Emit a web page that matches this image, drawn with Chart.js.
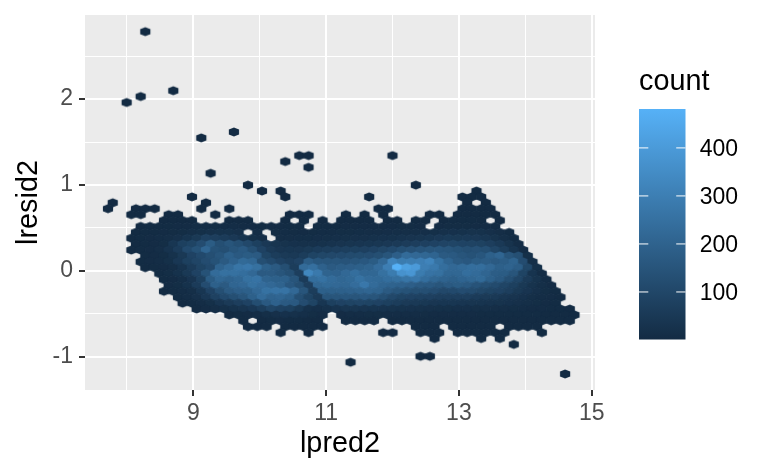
<!DOCTYPE html>
<html>
<head>
<meta charset="utf-8">
<title>lresid2 vs lpred2</title>
<script src="https://cdn.jsdelivr.net/npm/chart.js@4"></script>
<style>
  html, body { margin: 0; padding: 0; background: #fff; }
  canvas { display: block; }
</style>
</head>
<body>
<canvas id="hexChart" width="768" height="476"></canvas>
<script>
// bin rows: row y, x of the first bin, counts per bin (0 = empty bin)
const binWidth = 0.1405;
const rowY = [
  2.786, 2.098, 2.030, 1.961, 1.617, 1.548, 1.342, 1.342, 1.273, 1.205, 1.136,
  0.998, 0.998, 0.929, 0.929, 0.929, 0.861, 0.861, 0.861, 0.861,
  0.792, 0.792, 0.792, 0.792,
  0.723, 0.723, 0.723, 0.723, 0.723, 0.723,
  0.654, 0.654, 0.654, 0.654, 0.654, 0.654, 0.654, 0.654, 0.654,
  0.586, 0.586, 0.586, 0.586, 0.586, 0.586, 0.586, 0.586, 0.586, 0.586,
  0.517, 0.448, 0.379, 0.311, 0.242, 0.173, 0.104, 0.036, -0.033, -0.102,
  -0.171, -0.239, -0.308, -0.377, -0.446, -0.514, -0.583,
  -0.652, -0.652, -0.652, -0.652, -0.652,
  -0.721, -0.721, -0.721, -0.721, -0.721, -0.721,
  -0.789, -0.789, -0.789, -0.858, -0.996, -1.065, -1.202
];
const rowStartX = [
  8.277, 8.699, 8.207, 7.996, 9.612, 9.120, 10.596, 12.000, 10.385, 10.736, 9.261,
  9.823, 12.352, 10.034, 10.315, 13.265, 8.980, 10.385, 11.649, 13.054,
  7.786, 9.191, 13.125, 13.406,
  7.715, 8.137, 9.120, 9.542, 11.790, 13.054,
  8.067, 8.629, 9.331, 10.455, 11.298, 11.579, 11.860, 12.563, 12.984,
  8.558, 9.542, 10.385, 10.666, 10.947, 11.228, 11.930, 12.352, 12.773, 13.616,
  8.207, 8.137, 8.067, 8.137, 8.067, 8.277, 8.207, 8.277, 8.488, 8.558,
  8.629, 8.558, 8.769, 8.839, 9.050, 9.542, 9.753,
  9.823, 10.385, 12.352, 12.914, 13.756,
  10.315, 10.736, 11.860, 12.422, 12.984, 14.249,
  12.633, 13.335, 13.616, 13.827, 12.422, 11.368, 14.600
];
const rowCounts = [
  [1], [1], [1], [1], [1], [1], [1, 1], [1], [1], [1], [1],
  [1], [1], [1], [1], [1], [1], [1], [1], [1, 1, 1],
  [1], [1], [1], [1],
  [1], [1, 1, 1], [1], [1], [1, 2], [1, 1, 1, 1],
  [1, 1], [1, 1], [1], [1, 1, 1], [1], [1], [1], [1, 1], [1, 2, 2, 2, 1],
  [1, 2, 2, 2], [2, 2, 2], [1], [1], [1], [1, 2, 2, 1], [1, 1], [2, 2], [2, 3, 3, 3, 2], [1],
  [2, 3, 3, 4, 5, 6, 8, 9, 10, 9, 8, 6, 5, 4, 5, 5, 4, 3, 0, 3, 4, 4, 5, 5, 5, 6, 6, 6, 7, 7, 6, 0, 6, 7, 7, 7, 6, 5, 3],
  [2, 3, 4, 5, 7, 10, 14, 18, 22, 25, 26, 20, 0, 8, 0, 7, 8, 7, 6, 7, 8, 9, 10, 10, 11, 12, 12, 13, 14, 15, 15, 16, 18, 22, 24, 26, 28, 25, 20, 12, 4],
  [2, 4, 6, 8, 12, 20, 32, 50, 78, 70, 60, 48, 32, 18, 12, 0, 12, 12, 11, 11, 13, 15, 17, 18, 19, 20, 22, 24, 26, 30, 34, 36, 40, 48, 54, 50, 52, 48, 40, 28, 14, 4],
  [2, 3, 5, 10, 40, 75, 90, 120, 175, 130, 150, 130, 105, 75, 48, 36, 28, 24, 22, 22, 26, 30, 34, 36, 38, 40, 44, 48, 55, 62, 70, 78, 85, 92, 95, 88, 86, 82, 70, 52, 28, 8],
  [2, 3, 5, 12, 30, 60, 110, 140, 210, 140, 130, 150, 165, 130, 85, 55, 42, 40, 42, 50, 60, 66, 70, 74, 76, 78, 85, 98, 110, 125, 135, 145, 150, 155, 150, 140, 130, 135, 125, 95, 65, 32, 8],
  [3, 5, 10, 25, 50, 85, 110, 130, 150, 190, 165, 175, 170, 90, 65, 55, 52, 65, 90, 100, 105, 110, 115, 118, 120, 130, 150, 185, 230, 220, 215, 205, 170, 165, 150, 140, 155, 190, 210, 150, 130, 18],
  [3, 5, 9, 18, 45, 75, 95, 120, 140, 170, 195, 225, 215, 130, 110, 85, 70, 85, 180, 155, 150, 150, 145, 150, 160, 175, 220, 320, 290, 295, 300, 320, 255, 205, 170, 160, 175, 180, 170, 180, 200, 120, 14],
  [2, 3, 6, 12, 30, 60, 90, 110, 200, 230, 265, 275, 250, 190, 170, 130, 65, 230, 245, 195, 170, 180, 185, 190, 200, 235, 300, 480, 420, 400, 300, 280, 240, 220, 230, 240, 240, 220, 190, 200, 180, 100, 18],
  [4, 10, 25, 50, 85, 140, 230, 250, 250, 240, 220, 170, 170, 150, 130, 70, 330, 280, 200, 195, 220, 240, 215, 215, 250, 290, 370, 385, 290, 260, 250, 215, 215, 240, 230, 210, 180, 175, 150, 90, 32, 8],
  [3, 6, 14, 35, 75, 175, 215, 200, 215, 250, 260, 200, 190, 190, 150, 60, 240, 255, 230, 215, 225, 255, 230, 225, 240, 250, 265, 275, 240, 215, 200, 190, 205, 215, 225, 190, 165, 130, 95, 55, 28, 8],
  [5, 10, 25, 60, 120, 190, 170, 210, 220, 250, 235, 220, 200, 160, 130, 70, 215, 225, 220, 215, 235, 275, 230, 210, 200, 195, 185, 170, 165, 150, 165, 175, 165, 145, 130, 115, 95, 75, 50, 28, 14, 5],
  [2, 4, 8, 15, 40, 85, 130, 170, 185, 190, 220, 255, 260, 260, 220, 150, 65, 190, 190, 190, 195, 200, 210, 200, 170, 150, 140, 130, 130, 120, 105, 110, 120, 115, 100, 90, 85, 70, 50, 35, 20, 10, 4],
  [4, 8, 20, 45, 80, 110, 130, 150, 190, 230, 200, 210, 190, 130, 90, 55, 150, 150, 155, 150, 160, 150, 130, 105, 90, 85, 80, 78, 70, 70, 70, 70, 60, 55, 52, 42, 34, 24, 14, 8, 5, 2],
  [2, 4, 8, 18, 38, 55, 70, 85, 125, 165, 195, 170, 165, 120, 90, 40, 75, 85, 90, 95, 90, 85, 75, 65, 55, 52, 46, 42, 40, 40, 38, 36, 32, 30, 28, 24, 20, 14, 10, 6, 3],
  [2, 6, 12, 18, 25, 34, 45, 65, 95, 80, 75, 50, 22, 16, 22, 30, 36, 36, 34, 32, 30, 28, 26, 24, 22, 20, 18, 18, 16, 16, 14, 14, 12, 12, 10, 8, 6, 5, 4, 3, 2],
  [2, 4, 6, 8, 14, 20, 24, 22, 16, 10, 5, 0, 6, 8, 9, 10, 10, 9, 9, 8, 8, 7, 6, 6, 6, 5, 5, 4, 4, 4, 4, 3, 3, 3, 2, 2, 2, 1],
  [1, 0, 2, 4, 5, 4, 3, 2, 1, 0, 0, 1, 2, 2, 1, 0, 2, 2, 2, 2, 2, 2, 2, 2, 2, 2, 1, 1, 1, 1, 1, 1, 1, 1, 1, 1],
  [1, 1, 1], [1, 2, 2, 1, 1], [1, 1, 1], [1, 1, 1, 1, 1], [1, 1, 1, 1],
  [1], [1], [1, 1], [1, 1, 1], [1, 1, 1, 1, 1, 1], [1],
  [1], [1], [1], [1], [1, 1], [1], [1]
];

const xTicks = [8, 9, 10, 11, 12, 13, 14, 15];
const xLabels = [9, 11, 13, 15];
const yTicks = [-1, -0.5, 0, 0.5, 1, 1.5, 2, 2.5];
const yLabels = [-1, 0, 1, 2];
const legendTicks = [100, 200, 300, 400];
const countMin = 1;
const countMax = 481;
const lowColor = [19, 43, 67];
const highColor = [86, 177, 247];

const fontFamily = '"Liberation Sans", Helvetica, Arial, sans-serif';

function countColor(count) {
  const t = (count - countMin) / (countMax - countMin);
  const c = lowColor.map((v, i) => Math.round(v + (highColor[i] - v) * t));
  return `rgb(${c[0]},${c[1]},${c[2]})`;
}

// one small pointy-top hexagon per colour, used as the point image
// slightly oversized so neighbouring bins leave no seams
const sprites = {};
function hexSprite(count) {
  if (sprites[count]) return sprites[count];
  const c = document.createElement('canvas');
  c.width = 14;
  c.height = 14;
  const g = c.getContext('2d');
  const hw = 5.1, hh = 4.5, side = 2.4;
  g.fillStyle = countColor(count);
  g.beginPath();
  g.moveTo(7, 7 - hh);
  g.lineTo(7 + hw, 7 - side);
  g.lineTo(7 + hw, 7 + side);
  g.lineTo(7, 7 + hh);
  g.lineTo(7 - hw, 7 + side);
  g.lineTo(7 - hw, 7 - side);
  g.closePath();
  g.fill();
  sprites[count] = c;
  return c;
}

const points = [];
rowCounts.forEach((counts, r) => {
  counts.forEach((count, i) => {
    if (count > 0) points.push({ x: rowStartX[r] + i * binWidth, y: rowY[r], count });
  });
});

function noAxisPadding(axis) {
  axis.paddingTop = 0;
  axis.paddingBottom = 0;
  axis.paddingLeft = 0;
  axis.paddingRight = 0;
}

const panelAndLegend = {
  id: 'panelAndLegend',
  beforeDraw(chart) {
    const { ctx, chartArea: a } = chart;
    ctx.save();
    ctx.fillStyle = '#EBEBEB';
    ctx.fillRect(a.left, a.top, a.right - a.left, a.bottom - a.top);
    ctx.restore();
  },
  afterDraw(chart) {
    const ctx = chart.ctx;
    const left = 639, right = 685.5, top = 109, bottom = 339.5;
    const perCount = (bottom - top) / (countMax - countMin);
    ctx.save();
    const grad = ctx.createLinearGradient(0, bottom, 0, top);
    grad.addColorStop(0, countColor(countMin));
    grad.addColorStop(1, countColor(countMax));
    ctx.fillStyle = grad;
    ctx.fillRect(left, top, right - left, bottom - top);
    ctx.font = `23px ${fontFamily}`;
    ctx.textBaseline = 'middle';
    legendTicks.forEach(v => {
      const y = bottom - (v - countMin) * perCount;
      ctx.fillStyle = '#fff';
      ctx.fillRect(left, y - 0.5, 9.3, 1);
      ctx.fillRect(right - 9.3, y - 0.5, 9.3, 1);
      ctx.fillStyle = '#000';
      ctx.textAlign = 'right';
      ctx.fillText(String(v), 738, y + 2);
    });
    ctx.font = `28.8px ${fontFamily}`;
    ctx.textAlign = 'left';
    ctx.textBaseline = 'alphabetic';
    ctx.fillText('count', 639, 90);
    ctx.restore();
  }
};

new Chart(document.getElementById('hexChart'), {
  type: 'scatter',
  data: {
    datasets: [{
      data: points,
      pointStyle: ctx => hexSprite(ctx.raw.count),
      pointRadius: 4,
      pointHoverRadius: 4
    }]
  },
  options: {
    responsive: false,
    animation: false,
    devicePixelRatio: 1,
    layout: { padding: { top: 15, right: 173, left: 0, bottom: 0 } },
    plugins: { legend: { display: false }, tooltip: { enabled: false } },
    scales: {
      x: {
        type: 'linear',
        min: 7.369,
        max: 15.05,
        afterBuildTicks: axis => { axis.ticks = xTicks.map(value => ({ value })); },
        afterFit: axis => { axis.height = 86; noAxisPadding(axis); },
        border: { display: false },
        grid: {
          color: '#fff',
          lineWidth: c => (xLabels.includes(c.tick.value) ? 2 : 1),
          tickColor: c => (xLabels.includes(c.tick.value) ? '#333' : 'rgba(0,0,0,0)'),
          tickWidth: 2,
          tickLength: 6
        },
        ticks: {
          autoSkip: false,
          maxRotation: 0,
          padding: 4,
          color: '#4D4D4D',
          font: { family: fontFamily, size: 23 },
          callback: v => (xLabels.includes(v) ? String(v) : '')
        },
        title: {
          display: true,
          text: 'lpred2',
          color: '#000',
          font: { family: fontFamily, size: 28.8 },
          padding: { top: 0, bottom: 15 }
        }
      },
      y: {
        type: 'linear',
        min: -1.389,
        max: 2.98,
        afterBuildTicks: axis => { axis.ticks = yTicks.map(value => ({ value })); },
        afterFit: axis => { axis.width = 85; noAxisPadding(axis); },
        border: { display: false },
        grid: {
          color: '#fff',
          lineWidth: c => (yLabels.includes(c.tick.value) ? 2 : 1),
          tickColor: c => (yLabels.includes(c.tick.value) ? '#333' : 'rgba(0,0,0,0)'),
          tickWidth: 2,
          tickLength: 6
        },
        ticks: {
          autoSkip: false,
          padding: 6,
          color: '#4D4D4D',
          font: { family: fontFamily, size: 23 },
          callback: v => (yLabels.includes(v) ? String(v) : '')
        },
        title: {
          display: true,
          text: 'lresid2',
          color: '#000',
          font: { family: fontFamily, size: 28.8 },
          padding: { top: 12, bottom: 0 }
        }
      }
    }
  },
  plugins: [panelAndLegend]
});
</script>
</body>
</html>
